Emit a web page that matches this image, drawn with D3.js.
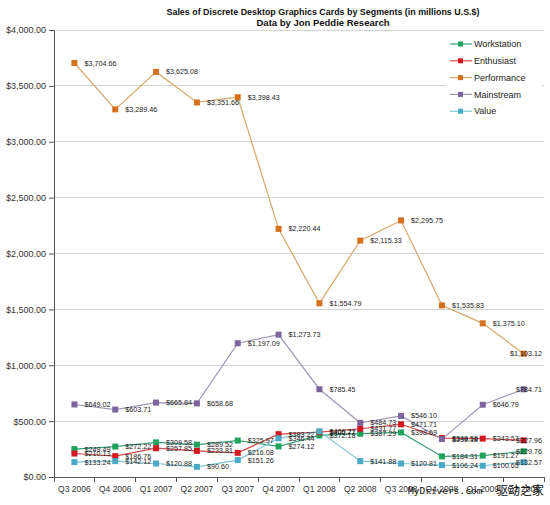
<!DOCTYPE html>
<html><head><meta charset="utf-8">
<script src="https://cdn.jsdelivr.net/npm/d3@7"></script>
<style>body{margin:0;background:#fff}svg{display:block}</style>
</head><body><svg id="c" width="550" height="505"></svg>
<script>
const categories = ["Q3 2006","Q4 2006","Q1 2007","Q2 2007","Q3 2007","Q4 2007","Q1 2008","Q2 2008","Q3 2008","Q4 2008","Q1 2009","Q2 2009"];
const workstation = [249.49,272.22,309.58,289.52,325.97,274.12,372.18,387.29,398.69,184.31,191.27,229.76];
const enthusiast  = [210.13,186.76,257.85,233.81,216.08,383.22,400.77,431.77,471.71,348.56,343.57,327.96];
const performance = [3704.66,3289.46,3625.08,3351.66,3398.43,2220.44,1554.79,2115.33,2295.75,1535.83,1375.10,1103.12];
const mainstream  = [649.02,603.71,665.84,658.68,1197.09,1273.73,785.45,484.73,546.10,339.18,646.79,784.71];
const value       = [133.24,142.12,120.88,90.60,151.26,346.44,409.27,141.88,120.81,106.24,100.65,132.57];
const seriesNames = ["Workstation","Enthusiast","Performance","Mainstream","Value"];
const yTicks = [0,500,1000,1500,2000,2500,3000,3500,4000];
const titleLines = ["Sales of Discrete Desktop Graphics Cards by Segments (in millions U.S.$)","Data by Jon Peddie Research"];

const seriesData = [workstation, enthusiast, performance, mainstream, value];
const lineColors = ["#3a9f78","#d54848","#d8a66a","#a096b6","#7ec4d6"];
const markColors = ["#1fa35c","#d3181f","#d5701c","#7b659c","#4aa9c5"];

const svg = d3.select("#c");
const L = 54, R = 544, T = 30, B = 477;
const x = d3.scaleBand().domain(categories).range([L, R]);
const y = d3.scaleLinear().domain([0, 4000]).range([B, T]);
const fmt = d3.format("$,.2f");
const font = "Liberation Sans, Arial, sans-serif";

// gridlines
svg.append("g").selectAll("line").data(yTicks.filter(d => d > 0)).join("line")
  .attr("x1", L).attr("x2", R).attr("y1", d => y(d)).attr("y2", d => y(d))
  .attr("stroke", "#d4d4d4").attr("stroke-width", 1).attr("shape-rendering", "crispEdges");

// y axis
const ya = svg.append("g").attr("transform", `translate(${L},0)`)
  .call(d3.axisLeft(y).tickValues(yTicks).tickFormat(fmt).tickSize(5).tickPadding(3));
ya.select(".domain").attr("stroke", "#555");
ya.selectAll(".tick line").attr("stroke", "#555");
ya.selectAll("text").attr("font-family", font).attr("font-size", 9).attr("fill", "#333");

// x axis
const xa = svg.append("g").attr("transform", `translate(0,${B})`)
  .call(d3.axisBottom(x).tickSize(0).tickPadding(9));
xa.select(".domain").attr("stroke", "#555");
xa.selectAll("text").attr("font-family", font).attr("font-size", 8.5).attr("fill", "#333");
svg.append("g").selectAll("line").data(d3.range(categories.length + 1)).join("line")
  .attr("x1", i => L + i * x.step()).attr("x2", i => L + i * x.step())
  .attr("y1", B).attr("y2", B + 5).attr("stroke", "#555").attr("shape-rendering", "crispEdges");

const cx = c => x(c) + x.bandwidth() / 2;

// lines and markers
seriesData.forEach((vals, si) => {
  const g = svg.append("g");
  g.append("path").datum(vals)
    .attr("d", d3.line().x((d, i) => cx(categories[i])).y(d => y(d)))
    .attr("fill", "none").attr("stroke", lineColors[si]).attr("stroke-width", 1.2);
  g.selectAll("rect").data(vals).join("rect")
    .attr("x", (d, i) => cx(categories[i]) - 3).attr("y", d => y(d) - 3)
    .attr("width", 6).attr("height", 6).attr("fill", markColors[si]);
});

// data labels
seriesData.forEach((vals, si) => {
  svg.append("g").selectAll("text").data(vals).join("text")
    .attr("x", (d, i) => i === categories.length - 1 ? 542 : cx(categories[i]) + 10)
    .attr("text-anchor", (d, i) => i === categories.length - 1 ? "end" : "start")
    .attr("y", d => y(d)).attr("dy", "0.35em")
    .attr("font-family", font).attr("font-size", 7.2).attr("fill", "#222")
    .text(d => fmt(d));
});

// legend
const lg = svg.append("g");
lg.append("rect").attr("x", 446).attr("y", 35).attr("width", 96).attr("height", 85).attr("fill", "#fff");
seriesNames.forEach((n, i) => {
  const yy = 44 + i * 16.8;
  lg.append("line").attr("x1", 450).attr("x2", 472).attr("y1", yy).attr("y2", yy)
    .attr("stroke", lineColors[i]).attr("stroke-width", 1.2);
  lg.append("rect").attr("x", 458).attr("y", yy - 2.5).attr("width", 5).attr("height", 5).attr("fill", markColors[i]);
  lg.append("text").attr("x", 474).attr("y", yy).attr("dy", "0.35em")
    .attr("font-family", font).attr("font-size", 9).attr("fill", "#222").text(n);
});

// title
svg.append("text").attr("x", 323).attr("y", 14.5).attr("text-anchor", "middle")
  .attr("font-family", font).attr("font-weight", "bold").attr("font-size", 9.5).attr("fill", "#111")
  .attr("textLength", 313).attr("lengthAdjust", "spacingAndGlyphs").text(titleLines[0]);
svg.append("text").attr("x", 323).attr("y", 26).attr("text-anchor", "middle")
  .attr("font-family", font).attr("font-weight", "bold").attr("font-size", 9.5).attr("fill", "#111")
  .attr("textLength", 133).attr("lengthAdjust", "spacingAndGlyphs").text(titleLines[1]);

// watermark
svg.append("text").attr("x", 408).attr("y", 494)
  .attr("font-family", "DejaVu Sans Mono, monospace").attr("font-size", 9.5).attr("fill", "#111").text("MyDrivers.com");
svg.append("text").attr("x", 496).attr("y", 495)
  .attr("font-family", "Noto Sans CJK SC").attr("font-size", 12).attr("fill", "#111").text("驱动之家");
</script></body></html>
